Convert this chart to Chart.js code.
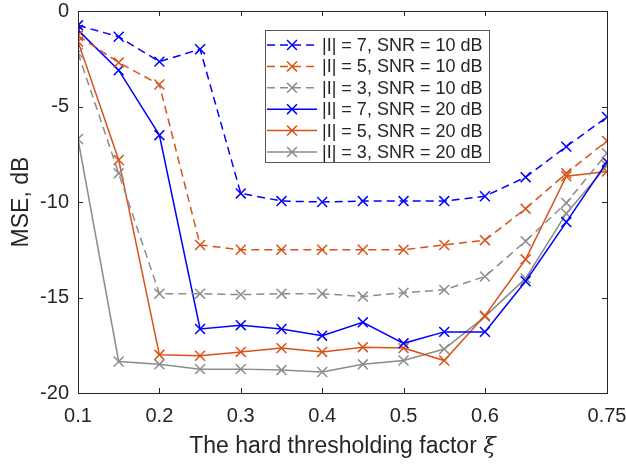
<!DOCTYPE html>
<html>
<head>
<meta charset="utf-8">
<script src="https://cdn.jsdelivr.net/npm/chart.js@4/dist/chart.umd.min.js"></script>
<style>
  html, body { margin: 0; padding: 0; background: #fff; }
  #wrap { width: 626px; height: 464px; }
</style>
</head>
<body>
<div id="wrap"><canvas id="mseChart" width="626" height="464"></canvas></div>
<script>
// Threshold factor values (x axis)
const xi = [0.1, 0.15, 0.2, 0.25, 0.3, 0.35, 0.4, 0.45, 0.5, 0.55, 0.6, 0.65, 0.7, 0.75];
const xTicks = [0.1, 0.2, 0.3, 0.4, 0.5, 0.6, 0.75];

// MSE in dB per support size |I| and SNR
const mseI7snr10 = [-0.75, -1.35, -2.65, -2.0, -9.55, -9.95, -10.0, -9.95, -9.95, -9.95, -9.7, -8.7, -7.1, -5.55];
const mseI5snr10 = [-1.3, -2.7, -3.85, -12.25, -12.5, -12.5, -12.5, -12.5, -12.5, -12.25, -12.0, -10.35, -8.5, -6.8];
const mseI3snr10 = [-2.2, -8.5, -14.8, -14.8, -14.85, -14.8, -14.8, -14.95, -14.75, -14.6, -13.9, -12.05, -10.05, -7.45];
const mseI7snr20 = [-1.0, -3.1, -6.5, -16.65, -16.45, -16.65, -17.0, -16.3, -17.4, -16.8, -16.8, -14.15, -11.05, -7.9];
const mseI5snr20 = [-1.6, -7.8, -18.0, -18.05, -17.85, -17.65, -17.85, -17.6, -17.65, -18.3, -15.95, -13.0, -8.65, -8.4];
const mseI3snr20 = [-6.7, -18.35, -18.5, -18.75, -18.75, -18.8, -18.9, -18.5, -18.3, -17.7, -16.0, -14.0, -10.6, -8.1];

const seriesLabels = [
    '|I| = 7, SNR = 10 dB',
    '|I| = 5, SNR = 10 dB',
    '|I| = 3, SNR = 10 dB',
    '|I| = 7, SNR = 20 dB',
    '|I| = 5, SNR = 20 dB',
    '|I| = 3, SNR = 20 dB'
];

const BLUE = '#0000ff';
const ORANGE = '#d95319';
const GRAY = '#8c8c8c';
const AXIS = '#262626';
const FONT = '"Liberation Sans", Arial, sans-serif';
const DASH = [8, 5];

function makeSet(label, values, color, dashed) {
    return {
        label: label,
        data: values.map((v, i) => ({ x: xi[i], y: v })),
        borderColor: color,
        backgroundColor: color,
        borderWidth: 1.5,
        borderDash: dashed ? DASH : [],
        pointStyle: 'crossRot',
        pointRadius: 7,
        pointBorderWidth: 1.5,
        pointHoverRadius: 7,
        tension: 0,
        fill: false
    };
}

// Inward ticks on all four sides plus the closed box
const axisBox = {
    id: 'axisBox',
    afterDraw(chart) {
        const { ctx, chartArea: a, scales } = chart;
        ctx.save();
        ctx.strokeStyle = AXIS;
        ctx.lineWidth = 1;
        ctx.strokeRect(Math.round(a.left) + 0.5, Math.round(a.top) + 0.5,
            Math.round(a.right - a.left), Math.round(a.bottom - a.top));
        const len = 5;
        ctx.beginPath();
        xTicks.forEach(v => {
            const px = Math.round(scales.x.getPixelForValue(v)) + 0.5;
            ctx.moveTo(px, a.bottom); ctx.lineTo(px, a.bottom - len);
            ctx.moveTo(px, a.top); ctx.lineTo(px, a.top + len);
        });
        scales.y.ticks.forEach(t => {
            const py = Math.round(scales.y.getPixelForValue(t.value)) + 0.5;
            ctx.moveTo(a.left, py); ctx.lineTo(a.left + len, py);
            ctx.moveTo(a.right, py); ctx.lineTo(a.right - len, py);
        });
        ctx.stroke();

        // x axis title, with an italic xi at the end
        const main = 'The hard thresholding factor ';
        const sym = 'ξ';
        const mainFont = '23px ' + FONT;
        const symFont = 'italic 23px "DejaVu Serif", "Liberation Serif", serif';
        ctx.font = mainFont;
        const w1 = ctx.measureText(main).width;
        ctx.font = symFont;
        const w2 = ctx.measureText(sym).width;
        let x0 = (a.left + a.right) / 2 - (w1 + w2) / 2;
        const yb = 453;
        ctx.fillStyle = AXIS;
        ctx.textBaseline = 'alphabetic';
        ctx.textAlign = 'left';
        ctx.font = mainFont;
        ctx.fillText(main, x0, yb);
        ctx.font = symFont;
        ctx.fillText(sym, x0 + w1, yb);
        ctx.restore();
    }
};

// Legend box with line + marker samples
const lineLegend = {
    id: 'lineLegend',
    afterDraw(chart) {
        const ctx = chart.ctx;
        const box = { x: 265, y: 30, w: 224, h: 132 };
        ctx.save();
        ctx.fillStyle = '#fff';
        ctx.fillRect(box.x, box.y, box.w, box.h);
        ctx.strokeStyle = '#555';
        ctx.lineWidth = 1;
        ctx.strokeRect(box.x + 0.5, box.y + 0.5, box.w, box.h);
        ctx.font = '18px ' + FONT;
        ctx.textBaseline = 'middle';
        chart.data.datasets.forEach((ds, i) => {
            const cy = box.y + 15 + i * 21.4;
            ctx.strokeStyle = ds.borderColor;
            ctx.lineWidth = 1.5;
            ctx.setLineDash(ds.borderDash);
            ctx.beginPath();
            ctx.moveTo(box.x + 2, cy);
            ctx.lineTo(box.x + 52, cy);
            ctx.stroke();
            ctx.setLineDash([]);
            const mx = box.x + 27, r = 7 * Math.SQRT1_2;
            ctx.beginPath();
            ctx.moveTo(mx - r, cy - r); ctx.lineTo(mx + r, cy + r);
            ctx.moveTo(mx - r, cy + r); ctx.lineTo(mx + r, cy - r);
            ctx.stroke();
            ctx.fillStyle = AXIS;
            ctx.fillText(ds.label, box.x + 57, cy + 1);
        });
        ctx.restore();
    }
};

const ctxMse = document.getElementById('mseChart').getContext('2d');
const mseChart = new Chart(ctxMse, {
    type: 'line',
    data: {
        datasets: [
            makeSet(seriesLabels[0], mseI7snr10, BLUE, true),
            makeSet(seriesLabels[1], mseI5snr10, ORANGE, true),
            makeSet(seriesLabels[2], mseI3snr10, GRAY, true),
            makeSet(seriesLabels[3], mseI7snr20, BLUE, false),
            makeSet(seriesLabels[4], mseI5snr20, ORANGE, false),
            makeSet(seriesLabels[5], mseI3snr20, GRAY, false)
        ]
    },
    options: {
        responsive: false,
        animation: false,
        events: [],
        layout: { padding: { top: 11, right: 19, left: 0, bottom: 0 } },
        plugins: {
            legend: { display: false },
            tooltip: { enabled: false }
        },
        scales: {
            x: {
                type: 'linear',
                min: 0.1,
                max: 0.75,
                afterBuildTicks(scale) {
                    scale.ticks = xTicks.map(v => ({ value: v }));
                },
                afterFit(scale) {
                    scale.height = 71;
                    scale.paddingLeft = 0;
                    scale.paddingRight = 0;
                },
                grid: { display: false, drawTicks: false },
                border: { display: false },
                ticks: {
                    color: AXIS,
                    font: { family: FONT, size: 20 },
                    padding: 11,
                    maxRotation: 0,
                    callback: v => String(v)
                },
                title: { display: false }
            },
            y: {
                min: -20,
                max: 0,
                afterFit(scale) {
                    scale.width = 78;
                    scale.paddingTop = 0;
                    scale.paddingBottom = 0;
                },
                grid: { display: false, drawTicks: false },
                border: { display: false },
                ticks: {
                    stepSize: 5,
                    color: AXIS,
                    font: { family: FONT, size: 20 },
                    padding: 9
                },
                title: {
                    display: true,
                    text: 'MSE, dB',
                    color: AXIS,
                    font: { family: FONT, size: 23 },
                    padding: { top: 8, bottom: 0 }
                }
            }
        }
    },
    plugins: [axisBox, lineLegend]
});
</script>
</body>
</html>
